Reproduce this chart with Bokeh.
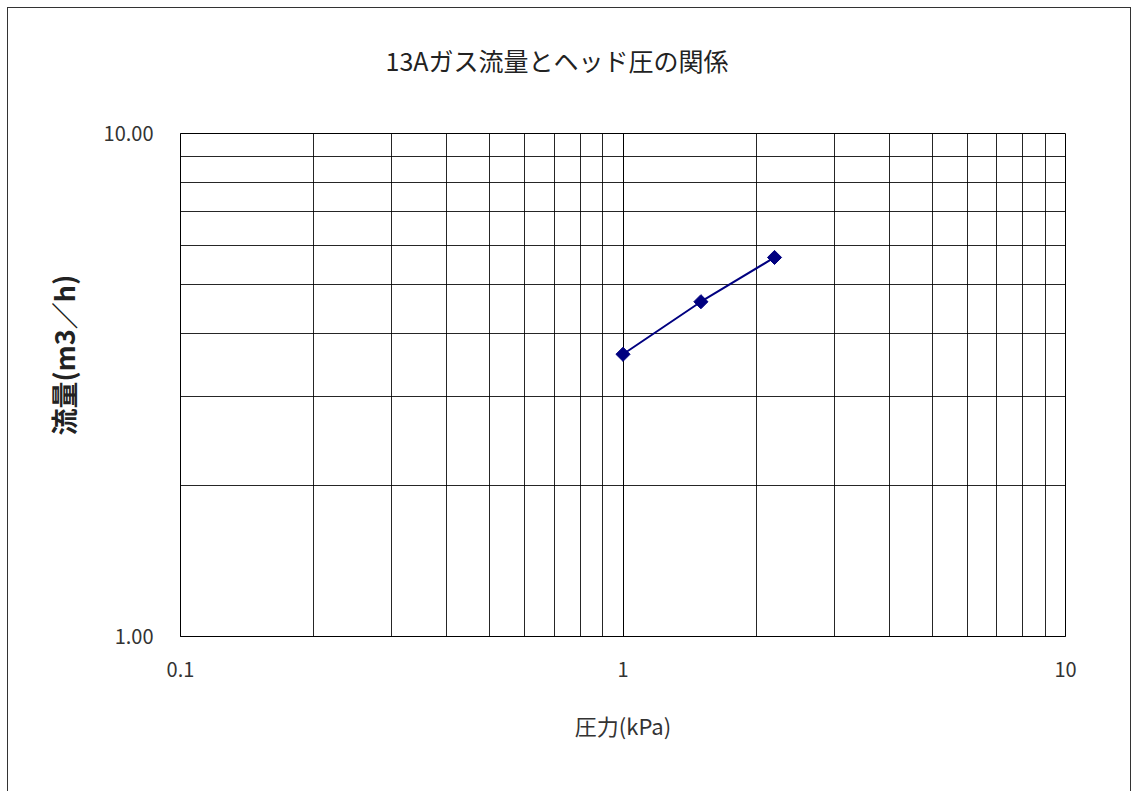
import math
from bokeh.plotting import figure
from bokeh.models import FixedTicker, PrintfTickFormatter, CustomJSTickFormatter, Title
from bokeh.embed import file_html
from bokeh.resources import INLINE

# Data
pressure_kpa = [1.0, 1.5, 2.2]
flow_m3h = [3.64, 4.63, 5.67]

x_major = [0.1, 1, 10]
x_minor = [0.2, 0.3, 0.4, 0.5, 0.6, 0.7, 0.8, 0.9, 2, 3, 4, 5, 6, 7, 8, 9]
y_major = [1, 10]
y_minor = [2, 3, 4, 5, 6, 7, 8, 9]

title_text = "13Aガス流量とヘッド圧の関係"
x_label = "圧力(kPa)"
y_label = "流量(m3／h)"

FONT = "Noto Sans CJK JP"

p = figure(width=1122, height=783, x_axis_type="log", y_axis_type="log",
           x_range=(0.1, 10), y_range=(1, 10),
           output_backend="svg", toolbar_location=None,
           min_border_left=172, min_border_right=65, min_border_top=125, min_border_bottom=155)
p.frame_width = 885
p.frame_height = 503

p.xaxis.ticker = FixedTicker(ticks=x_major, minor_ticks=x_minor)
p.yaxis.ticker = FixedTicker(ticks=y_major, minor_ticks=y_minor)
p.yaxis.formatter = PrintfTickFormatter(format="%.2f")
p.xaxis.formatter = CustomJSTickFormatter(code="return tick < 1 ? tick.toFixed(1) : tick.toFixed(0);")

for ax in (p.xaxis, p.yaxis):
    ax.major_tick_line_color = None
    ax.minor_tick_line_color = None
    ax.axis_line_color = "black"
    ax.major_label_text_font = FONT
    ax.major_label_text_font_size = "20px"
    ax.major_label_text_color = "#333333"
    ax.axis_label_text_font = FONT

p.xaxis.major_label_standoff = 19
p.yaxis.major_label_standoff = 21
p.xaxis.axis_label = x_label
p.xaxis.axis_label_text_font_size = "22px"
p.xaxis.axis_label_text_font_style = "normal"
p.xaxis.axis_label_text_color = "#333333"
p.xaxis.axis_label_standoff = 29

# spacer between frame and title, then the title itself
p.add_layout(Title(text=" ", text_font_size="1px", standoff=53), "above")
p.add_layout(Title(text=title_text, align="left", vertical_align="bottom", offset=205,
                   standoff=0, text_font=FONT, text_font_size="25px",
                   text_font_style="normal", text_color="#222222"), "above")

# y-axis label as a side title (vertical), shifted along the axis
p.add_layout(Title(text=y_label, align="left", vertical_align="middle", offset=201,
                   standoff=34, text_font=FONT, text_font_size="27px",
                   text_font_style="bold", text_color="#222222"), "left")

for g in (p.xgrid, p.ygrid):
    g.grid_line_color = "black"
    g.grid_line_width = 1
    g.minor_grid_line_color = "black"
    g.minor_grid_line_alpha = 0.85
    g.minor_grid_line_width = 1

p.outline_line_color = "black"
p.outline_line_width = 1
p.styles = {"margin-left": "7px", "margin-top": "7px",
            "border-left": "1px solid #333", "border-top": "1px solid #333",
            "border-right": "1px solid #333"}

p.line(pressure_kpa, flow_m3h, line_color="#000080", line_width=2)
p.scatter(pressure_kpa, flow_m3h, marker="square", angle=math.pi / 4, size=10,
          fill_color="#000080", line_color="#000080")

open("out.html", "w").write(file_html(p, INLINE))
